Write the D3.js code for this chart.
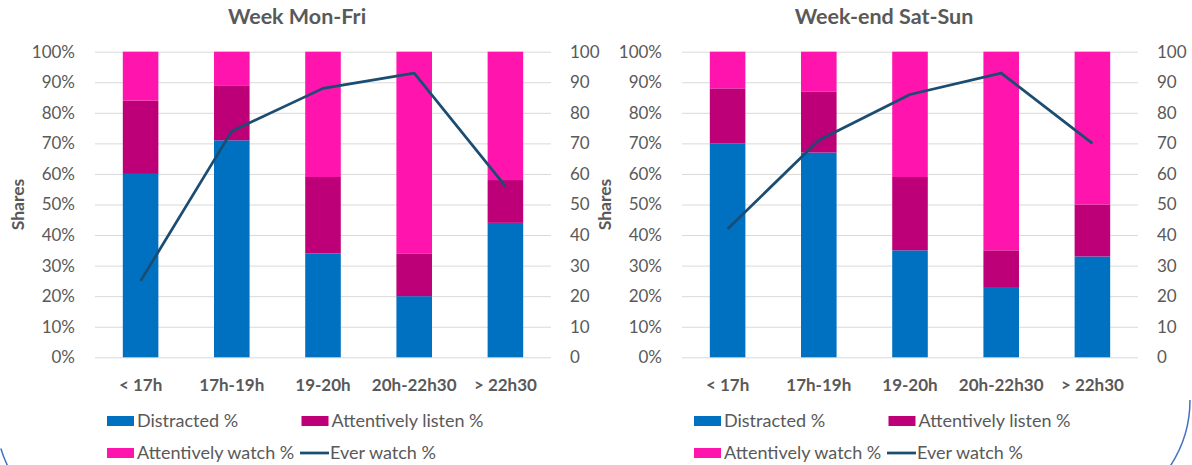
<!DOCTYPE html>
<html>
<head>
<meta charset="utf-8">
<script src="https://cdn.jsdelivr.net/npm/d3@7/dist/d3.min.js"></script>
<style>
  html, body { margin: 0; padding: 0; background: #ffffff; }
  svg { display: block; }
  text { font-family: Lato, "Open Sans", "Liberation Sans", sans-serif; fill: #595959; }
</style>
</head>
<body>
<svg id="chart" width="1192" height="465"></svg>
<script>
// Time slots on the x axis
const categories = ["< 17h", "17h-19h", "19-20h", "20h-22h30", "> 22h30"];

// Week (Mon-Fri) shares, %
const weekDistracted = [60, 71, 34, 20, 44];
const weekListen     = [24, 18, 25, 14, 14];
const weekWatch      = [16, 11, 41, 66, 42];
const weekEverWatch  = [25, 74, 88, 93, 56];

// Week-end (Sat-Sun) shares, %
const wkendDistracted = [70, 67, 35, 23, 33];
const wkendListen     = [18, 20, 24, 12, 17];
const wkendWatch      = [12, 13, 41, 65, 50];
const wkendEverWatch  = [42, 71, 86, 93, 70];

// Axis ticks
const leftTicks  = [0, 10, 20, 30, 40, 50, 60, 70, 80, 90, 100];
const rightTicks = [0, 10, 20, 30, 40, 50, 60, 70, 80, 90, 100];

const seriesNames = ["Distracted %", "Attentively listen %", "Attentively watch %", "Ever watch %"];
const colors = {
  distracted: "#0070C0",
  listen: "#BE0078",
  watch: "#FF14AE",
  ever: "#1B4D72"
};

const FONT = 'Lato, "Open Sans", sans-serif';
const svg = d3.select("#chart");

function drawPanel(offsetX, title, distracted, listen, watch, ever) {
  const g = svg.append("g").attr("transform", `translate(${offsetX},0)`);
  const plot = { left: 95, right: 551, top: 51.7, bottom: 357.3 };

  const rows = categories.map((c, i) => ({
    cat: c, distracted: distracted[i], listen: listen[i], watch: watch[i]
  }));

  const x = d3.scaleBand().domain(categories)
    .range([plot.left, plot.right]).paddingInner(0.61).paddingOuter(0.305);
  const y = d3.scaleLinear().domain([0, 100]).range([plot.bottom, plot.top]);
  const y2 = d3.scaleLinear().domain([0, 100]).range([plot.bottom, plot.top]);

  // Title
  g.append("text")
    .attr("x", 297).attr("y", 24)
    .attr("text-anchor", "middle")
    .style("font-size", "21.5px").style("font-weight", "bold")
    .text(title);

  // Gridlines
  g.append("g")
    .attr("transform", `translate(${plot.left},0)`)
    .call(d3.axisLeft(y).tickValues(leftTicks).tickSize(-(plot.right - plot.left)).tickFormat(""))
    .call(a => a.select(".domain").remove())
    .call(a => a.selectAll("line").attr("stroke", "#D9D9D9").attr("stroke-width", 1));

  // Left axis labels
  g.append("g")
    .attr("transform", `translate(${plot.left},0)`)
    .call(d3.axisLeft(y).tickValues(leftTicks).tickSize(0).tickPadding(20).tickFormat(d => d + "%"))
    .call(a => a.select(".domain").remove())
    .call(a => a.selectAll("text").style("font-size", "17px").attr("fill", "#595959")
      .style("font-family", FONT));

  // Right axis labels
  g.append("g")
    .attr("transform", `translate(${plot.right},0)`)
    .call(d3.axisRight(y2).tickValues(rightTicks).tickSize(0).tickPadding(19).tickFormat(d => d))
    .call(a => a.select(".domain").remove())
    .call(a => a.selectAll("text").style("font-size", "17px").attr("fill", "#595959")
      .style("font-family", FONT));

  // Category labels
  g.append("g")
    .attr("transform", `translate(0,${plot.bottom})`)
    .call(d3.axisBottom(x).tickSize(0).tickPadding(22))
    .call(a => a.select(".domain").remove())
    .call(a => a.selectAll("text").style("font-size", "17px").style("font-weight", "bold")
      .attr("fill", "#595959").style("font-family", FONT));

  // Y axis title
  g.append("text")
    .attr("transform", `translate(24,${(plot.top + plot.bottom) / 2}) rotate(-90)`)
    .attr("text-anchor", "middle")
    .style("font-size", "17.5px").style("font-weight", "bold")
    .text("Shares");

  // Stacked bars
  const stack = d3.stack().keys(["distracted", "listen", "watch"]);
  const layers = stack(rows);
  g.append("g").selectAll("g").data(layers).join("g")
    .attr("fill", d => colors[d.key])
    .selectAll("rect").data(d => d).join("rect")
    .attr("x", d => x(d.data.cat))
    .attr("width", x.bandwidth())
    .attr("y", d => y(d[1]))
    .attr("height", d => y(d[0]) - y(d[1]));

  // Ever watch line (right axis)
  const line = d3.line()
    .x((d, i) => x(categories[i]) + x.bandwidth() / 2)
    .y(d => y2(d));
  g.append("path")
    .datum(ever)
    .attr("d", line)
    .attr("fill", "none")
    .attr("stroke", colors.ever)
    .attr("stroke-width", 2.75)
    .attr("stroke-linejoin", "round");

  // Legend
  const legend = g.append("g");
  const items = [
    { name: seriesNames[0], type: "rect", color: colors.distracted, x: 107, y: 421 },
    { name: seriesNames[1], type: "rect", color: colors.listen, x: 301.5, y: 421 },
    { name: seriesNames[2], type: "rect", color: colors.watch, x: 107, y: 453 },
    { name: seriesNames[3], type: "line", color: colors.ever, x: 300, y: 453 }
  ];
  items.forEach(it => {
    if (it.type === "rect") {
      legend.append("rect").attr("x", it.x).attr("y", it.y - 5)
        .attr("width", 27).attr("height", 10).attr("fill", it.color);
    } else {
      legend.append("line").attr("x1", it.x).attr("x2", it.x + 29)
        .attr("y1", it.y).attr("y2", it.y)
        .attr("stroke", it.color).attr("stroke-width", 2.75);
    }
    legend.append("text").attr("x", it.x + 30).attr("y", it.y + 6)
      .style("font-size", "18px").text(it.name);
  });
}

drawPanel(0, "Week Mon-Fri", weekDistracted, weekListen, weekWatch, weekEverWatch);
drawPanel(587, "Week-end Sat-Sun", wkendDistracted, wkendListen, wkendWatch, wkendEverWatch);

// Slide frame corners
svg.append("path")
  .attr("d", d3.arc()({ innerRadius: 130, outerRadius: 130, startAngle: -Math.PI / 2 - 0.3, endAngle: -Math.PI / 2 - 1.2 }))
  .attr("transform", "translate(125,410)")
  .attr("fill", "none").attr("stroke", "#4472C4").attr("stroke-width", 1.5);
svg.append("path")
  .attr("d", d3.arc()({ innerRadius: 120, outerRadius: 120, startAngle: Math.PI / 2, endAngle: Math.PI / 2 + 0.6 }))
  .attr("transform", "translate(1070,400)")
  .attr("fill", "none").attr("stroke", "#4472C4").attr("stroke-width", 1.5);
</script>
</body>
</html>
